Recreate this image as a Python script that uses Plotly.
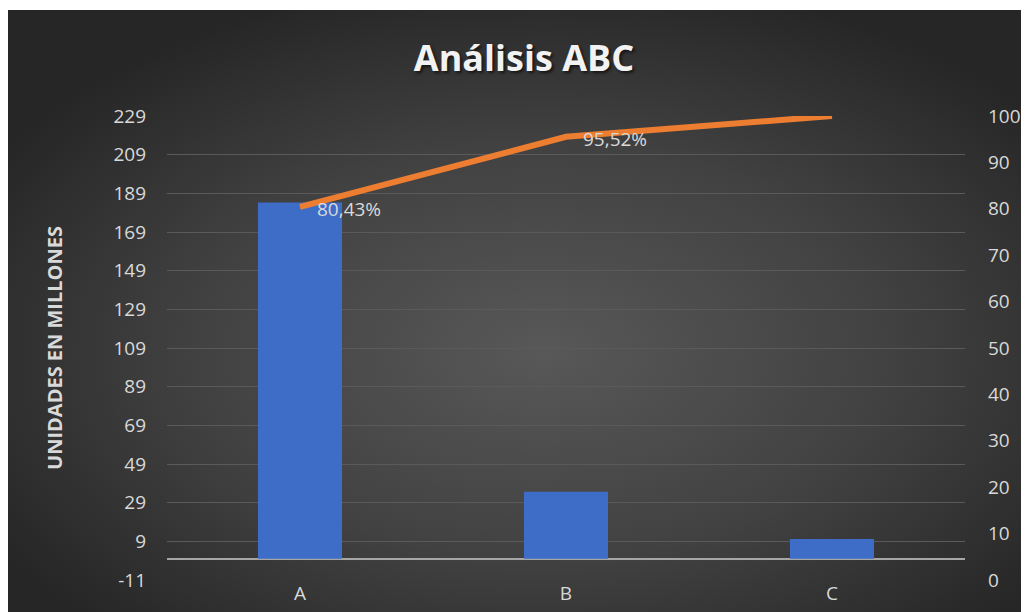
import base64
import plotly.graph_objects as go

categories = ["A", "B", "C"]
unidades = [184.2, 34.6, 10.2]
acumulado_pct = [80.43, 95.52, 100.0]
etiquetas_pct = ["80,43%", "95,52%"]
left_ticks = list(range(-11, 230, 20))
right_ticks = list(range(0, 101, 10))

TXT = "#d9d9d9"
FONT = "Open Sans"

W, H = 1029, 612
L, R, T, B = 159, 72, 108, 40
pw, ph = W - L - R, H - T - B

svg = ('<svg xmlns="http://www.w3.org/2000/svg" width="1029" height="610" preserveAspectRatio="none">'
       '<defs><radialGradient id="g" cx="0.52" cy="0.56" r="0.62">'
       '<stop offset="0" stop-color="#585858"/><stop offset="0.55" stop-color="#414141"/>'
       '<stop offset="1" stop-color="#262626"/></radialGradient></defs>'
       '<rect width="1029" height="610" fill="url(#g)"/></svg>')
bg_uri = "data:image/svg+xml;base64," + base64.b64encode(svg.encode()).decode()

fig = go.Figure()
fig.add_trace(go.Bar(
    x=categories, y=unidades, width=0.316,
    marker=dict(color="#3d6dc7", line=dict(width=0)),
    name="Unidades", yaxis="y",
))
fig.add_trace(go.Scatter(
    x=categories, y=acumulado_pct, yaxis="y2", mode="lines",
    line=dict(color="#ed7d31", width=6),
    name="% acumulado",
))

annotations = [
    dict(x=categories[i], y=acumulado_pct[i], xref="x", yref="y2",
         text=etiquetas_pct[i], showarrow=False, xanchor="left", yanchor="middle",
         xshift=15, yshift=-2, font=dict(color=TXT, size=19, family=FONT))
    for i in range(len(etiquetas_pct))
]

fig.update_layout(
    width=W, height=H,
    margin=dict(l=L, r=R, t=T, b=B),
    paper_bgcolor="white",
    plot_bgcolor="rgba(0,0,0,0)",
    showlegend=False,
    annotations=annotations,
    title=dict(text="Análisis ABC", x=516 / W, xanchor="center",
               y=1 - 50 / H, yanchor="middle", yref="container",
               font=dict(family=FONT, size=36, color="#f2f2f2", weight=700,
                         shadow="2px 2px 3px rgba(0,0,0,0.6)")),
    images=[dict(source=bg_uri, xref="paper", yref="paper",
                 x=-L / pw, y=(H - B - 2) / ph,
                 sizex=W / pw, sizey=(H - 2) / ph,
                 xanchor="left", yanchor="top", sizing="stretch", layer="below")],
    xaxis=dict(showgrid=False, showline=False, ticks="",
               tickfont=dict(color=TXT, size=19, family=FONT)),
    yaxis=dict(range=[-11, 229], tickmode="array", tickvals=left_ticks,
               ticktext=[str(v) for v in left_ticks],
               showgrid=True, gridcolor="#5a5a5a", gridwidth=1,
               zeroline=True, zerolinecolor="#a6a6a6", zerolinewidth=2,
               ticks="", ticklabelstandoff=20,
               tickfont=dict(color=TXT, size=19, family=FONT),
               title=dict(text="<b>UNIDADES EN MILLONES</b>", standoff=45,
                          font=dict(color=TXT, size=20, family=FONT))),
    yaxis2=dict(range=[0, 100], overlaying="y", side="right",
                tickmode="array", tickvals=right_ticks,
                showgrid=False, zeroline=False, ticks="", ticklabelstandoff=22,
                tickfont=dict(color=TXT, size=19, family=FONT)),
)

fig.write_html("out.html")
